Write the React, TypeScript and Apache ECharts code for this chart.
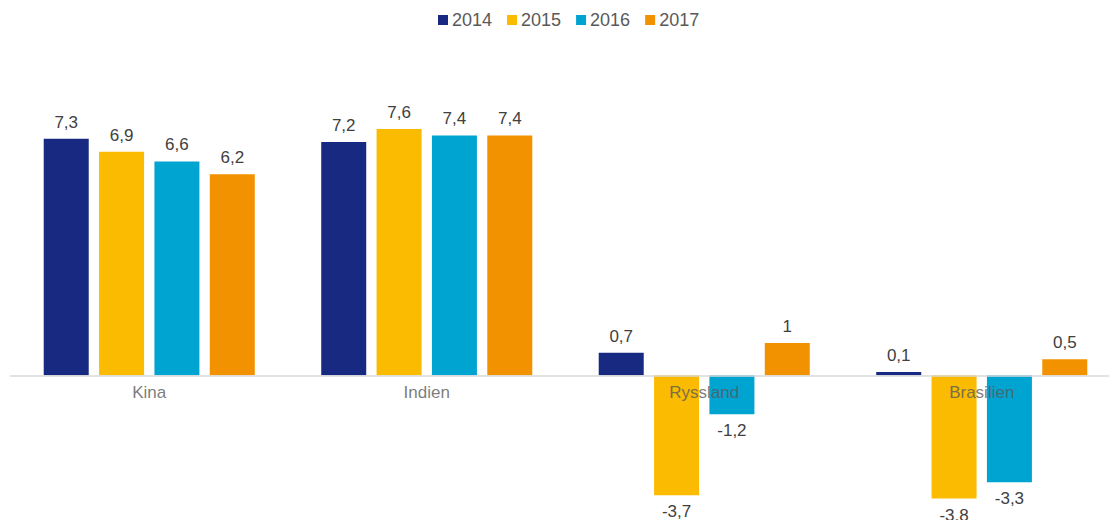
import React, { useEffect, useRef } from "react";
import * as echarts from "echarts";

const categories = ["Kina", "Indien", "Ryssland", "Brasilien"];
const years = ["2014", "2015", "2016", "2017"];
const values2014 = [7.3, 7.2, 0.7, 0.1];
const values2015 = [6.9, 7.6, -3.7, -3.8];
const values2016 = [6.6, 7.4, -1.2, -3.3];
const values2017 = [6.2, 7.4, 1, 0.5];
// label text as printed in the source (one label uses a period)
const labels2015 = ["6,9", "7,6", "-3,7", "-3.8"];
const colors = ["#172981", "#FABB00", "#00A4D1", "#F39200"];

const fmt = (v: number) => String(v).replace(".", ",");
const FONT = "Liberation Sans, Arial, sans-serif";

export default function App() {
  const ref = useRef<HTMLDivElement>(null);
  useEffect(() => {
    if (!ref.current) return;
    const chart = echarts.init(ref.current, null, { renderer: "svg" });
    const allValues = [values2014, values2015, values2016, values2017];
    const series: any[] = allValues.map((vals, si) => ({
      name: years[si],
      type: "bar",
      barWidth: 45,
      barGap: "23%",
      itemStyle: { color: colors[si] },
      data: vals.map((v, i) => ({
        value: v,
        label: {
          show: true,
          position: v < 0 ? "bottom" : "top",
          distance: 8,
          formatter: si === 1 ? labels2015[i] : fmt(v),
          color: "#404040",
          fontSize: 17,
          fontFamily: FONT,
        },
      })),
    }));
    // category names placed at the zero line, drawn above the bars
    series.push({
      type: "scatter",
      name: "categoryLabels",
      symbolSize: 0,
      z: 10,
      silent: true,
      data: categories.map((c) => ({
        value: [c, 0],
        label: {
          show: true,
          position: "bottom",
          distance: 9,
          formatter: c,
          color: "#595959",
          fontSize: 17,
          fontFamily: FONT,
        },
      })),
    });
    chart.setOption({
      animation: false,
      color: colors,
      legend: {
        top: 6,
        left: 433,
        itemWidth: 10,
        itemHeight: 10,
        itemGap: 15,
        icon: "rect",
        textStyle: {
          fontSize: 18,
          color: "#595959",
          fontFamily: FONT,
          padding: [0, 0, 0, -1],
        },
        data: years,
      },
      grid: {
        left: 10.5,
        right: -11.5,
        top: 116,
        height: 389,
        containLabel: false,
        outerBoundsMode: "none",
      },
      xAxis: {
        type: "category",
        data: categories,
        z: 5,
        axisLine: { show: true, onZero: true, lineStyle: { color: "#D9D9D9", width: 1.5 } },
        axisTick: { show: false },
        axisLabel: { show: false },
      },
      yAxis: {
        type: "value",
        min: -4,
        max: 8,
        interval: 2,
        show: true,
        axisLine: { show: false },
        axisTick: { show: false },
        axisLabel: { show: false },
        splitLine: { show: false },
      },
      series,
    });
    return () => chart.dispose();
  }, []);
  return (
    <div
      ref={ref}
      style={{ position: "fixed", left: 0, top: 0, width: 1109, height: 520, background: "#fff" }}
    />
  );
}
